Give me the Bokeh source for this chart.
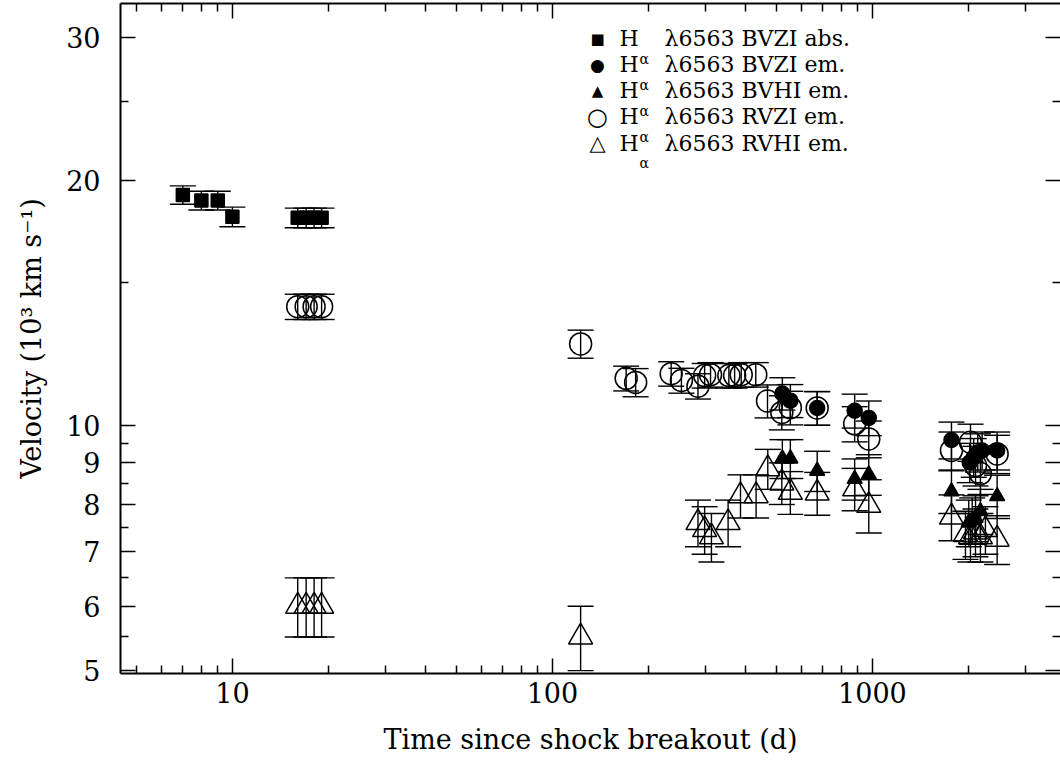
import math
from bokeh.plotting import figure
from bokeh.models import (Range1d, LogAxis, FixedTicker, PrintfTickFormatter,
                          CustomJSTickFormatter, ColumnDataSource, Whisker, TeeHead, Label)
from bokeh.embed import file_html
from bokeh.resources import INLINE

# ---------------- data (time since shock breakout [d], velocity [10^3 km/s], error) -------------
# H-alpha BVZI absorption (filled squares)
sq_t = [7, 8, 9, 10, 16, 17, 18, 19]
sq_v = [19.2, 18.9, 18.9, 18.05, 18.0, 18.0, 18.0, 18.0]
sq_e = [0.5, 0.5, 0.5, 0.5, 0.5, 0.5, 0.5, 0.5]

# H-alpha BVZI emission (filled circles)
fc_t = [523, 554, 672, 880, 974, 1766, 2014, 2073, 2134, 2202, 2453]
fc_v = [10.95, 10.73, 10.51, 10.43, 10.22, 9.6, 9.01, 9.14, 9.27, 9.32, 9.32]
fc_e = [0.5, 0.5, 0.5, 0.5, 0.5, 0.5, 0.5, 0.5, 0.5, 0.5, 0.5]

# H-alpha BVHI emission (filled triangles)
ft_t = [523, 554, 672, 880, 974, 1766, 2000, 2050, 2100, 2175, 2453]
ft_v = [9.11, 9.11, 8.8, 8.6, 8.71, 8.3, 7.6, 7.65, 7.7, 7.85, 8.19]
ft_e = [0.5, 0.5, 0.5, 0.5, 0.5, 0.5, 0.5, 0.5, 0.5, 0.5, 0.5]

# H-alpha RVZI emission (open circles)
oc_t = [16, 17, 18, 19, 122.5, 170, 182, 235, 253, 285, 299, 312, 356, 371, 389, 432,
        470, 521, 554, 672, 880, 974, 1766, 2025, 2100, 2175, 2453]
oc_v = [14.0, 14.0, 14.0, 14.0, 12.6, 11.43, 11.3, 11.58, 11.36, 11.18, 11.52, 11.55, 11.52,
        11.52, 11.55, 11.55, 10.72, 10.38, 10.52, 10.51, 10.05, 9.63, 9.32, 9.54, 8.93, 8.73, 9.23]
oc_e = [0.5, 0.5, 0.5, 0.5, 0.5, 0.4, 0.45, 0.4, 0.4, 0.4, 0.4, 0.4, 0.4, 0.4, 0.4, 0.4,
        0.5, 0.5, 0.5, 0.5, 0.5, 0.5, 0.5, 0.5, 0.5, 0.5, 0.5]

# H-alpha RVHI emission (open triangles)
ot_t = [16, 17, 18, 19, 122.5, 285, 299, 314, 354, 387, 433, 471, 521, 554, 672, 880, 974,
        1766, 1953, 2025, 2099, 2175, 2255, 2453]
ot_v = [6.0, 6.0, 6.0, 6.0, 5.5, 7.6, 7.45, 7.3, 7.6, 8.2, 8.2, 8.85, 8.5, 8.28, 8.26, 8.36,
        7.98, 7.72, 7.35, 7.3, 7.4, 7.3, 7.45, 7.25]
ot_e = [0.5, 0.5, 0.5, 0.5, 0.5, 0.5, 0.5, 0.5, 0.5, 0.5, 0.5, 0.5, 0.5, 0.5, 0.5, 0.5, 0.6,
        0.5, 0.5, 0.5, 0.5, 0.5, 0.5, 0.5]

x_major = [10, 100, 1000]
x_minor = [5, 6, 7, 8, 9, 20, 30, 40, 50, 60, 70, 80, 90,
           200, 300, 400, 500, 600, 700, 800, 900, 2000, 3000]
y_major = [5, 6, 7, 8, 9, 10, 20, 30]
y_minor = [5.5, 6.5, 7.5, 8.5, 9.5, 15, 25]

legend_symbols = ["■", "●", "▲", "○", "△"]
legend_texts = ["λ6563 BVZI abs.", "λ6563 BVZI em.", "λ6563 BVHI em.",
                "λ6563 RVZI em.", "λ6563 RVHI em."]

# ---------------- layout ----------------
W, H = 1060, 763
FL, FR, FT, FB = 120, 1060, 3, 673
X_LO, X_HI = 4.47, 3870.0
Y_LO, Y_HI = 4.96, 33.0
SERIF = "DejaVu Serif"

p = figure(width=W, height=H, x_axis_type="log", y_axis_type="log",
           x_range=Range1d(X_LO, X_HI), y_range=Range1d(Y_LO, Y_HI),
           output_backend="svg", toolbar_location=None, title=None,
           min_border_left=FL, min_border_right=W - FR, min_border_top=FT,
           min_border_bottom=H - FB)
p.background_fill_color = "white"
p.border_fill_color = "white"
p.outline_line_color = None
p.xgrid.visible = False
p.ygrid.visible = False


def style_axis(ax, labels=True):
    ax.major_tick_in = 15
    ax.major_tick_out = 0
    ax.minor_tick_in = 8
    ax.minor_tick_out = 0
    ax.major_tick_line_width = 1.5
    ax.minor_tick_line_width = 1.5
    ax.major_tick_line_color = "black"
    ax.minor_tick_line_color = "black"
    ax.axis_line_width = 2
    ax.axis_line_color = "black"
    if labels:
        ax.major_label_text_font = SERIF
        ax.major_label_text_font_size = "27px"
        ax.major_label_text_color = "black"
        ax.axis_label_text_font = SERIF
        ax.axis_label_text_font_size = "27px"
        ax.axis_label_text_font_style = "normal"
        ax.axis_label_text_color = "black"
    else:
        ax.formatter = CustomJSTickFormatter(code="return ''")
        ax.major_label_text_font_size = "0px"
        ax.major_label_standoff = 0
        ax.axis_label = None


xb = p.xaxis[0]
xb.ticker = FixedTicker(ticks=x_major, minor_ticks=x_minor)
xb.formatter = PrintfTickFormatter(format="%d")
style_axis(xb)
xb.major_label_standoff = 8
xb.axis_label = "Time since shock breakout (d)"
xb.axis_label_standoff = 18

yl = p.yaxis[0]
yl.ticker = FixedTicker(ticks=y_major, minor_ticks=y_minor)
yl.formatter = PrintfTickFormatter(format="%d")
style_axis(yl)
yl.major_label_standoff = 20
yl.axis_label = "Velocity (10³ km s⁻¹)"
yl.axis_label_standoff = 16

xt = LogAxis(ticker=FixedTicker(ticks=x_major, minor_ticks=x_minor))
style_axis(xt, labels=False)
p.add_layout(xt, "above")

yr = LogAxis(ticker=FixedTicker(ticks=y_major, minor_ticks=y_minor))
style_axis(yr, labels=False)
yr.axis_line_color = None
p.add_layout(yr, "right")


def add_series(t, v, e, marker, size, filled):
    lo = [a - b for a, b in zip(v, e)]
    hi = [a + b for a, b in zip(v, e)]
    src = ColumnDataSource(dict(t=t, v=v, lo=lo, hi=hi))
    w = Whisker(source=src, base="t", upper="hi", lower="lo", dimension="height",
                line_color="black", line_width=1.4,
                upper_head=TeeHead(size=26, line_color="black", line_width=1.4),
                lower_head=TeeHead(size=26, line_color="black", line_width=1.4))
    p.add_layout(w)
    p.scatter("t", "v", source=src, marker=marker, size=size,
              fill_color="black" if filled else None, line_color="black",
              line_width=1.5)


add_series(sq_t, sq_v, sq_e, "square", 13, True)
add_series(oc_t, oc_v, oc_e, "circle", 22, False)
add_series(ot_t, ot_v, ot_e, "triangle", 24, False)
add_series(fc_t, fc_v, fc_e, "circle", 15, True)
add_series(ft_t, ft_v, ft_e, "triangle", 15, True)


# ---------------- legend (text annotations placed in the frame) ----------------
def px_x(px):
    a, b = math.log10(X_LO), math.log10(X_HI)
    return 10 ** (a + (px - FL) / (FR - FL) * (b - a))


def px_y(py):
    a, b = math.log10(Y_LO), math.log10(Y_HI)
    return 10 ** (b - (py - FT) / (FB - FT) * (b - a))


sym_sizes = ["15px", "17px", "15px", "24px", "21px"]
for i, (sym, txt) in enumerate(zip(legend_symbols, legend_texts)):
    yc = 38.3 + 26.05 * i
    p.add_layout(Label(x=px_x(597), y=px_y(yc), text=sym, text_align="center",
                       text_baseline="middle", text_font="DejaVu Sans",
                       text_font_size=sym_sizes[i], text_color="black"))
    p.add_layout(Label(x=px_x(619), y=px_y(yc), text="H", text_align="left",
                       text_baseline="middle", text_font=SERIF,
                       text_font_size="22px", text_color="black"))
    p.add_layout(Label(x=px_x(639), y=px_y(yc + 20), text="α", text_align="left",
                       text_baseline="middle", text_font=SERIF,
                       text_font_size="14px", text_color="black"))
    p.add_layout(Label(x=px_x(664), y=px_y(yc), text=txt, text_align="left",
                       text_baseline="middle", text_font=SERIF,
                       text_font_size="22px", text_color="black"))

open("out.html", "w").write(file_html(p, INLINE))
